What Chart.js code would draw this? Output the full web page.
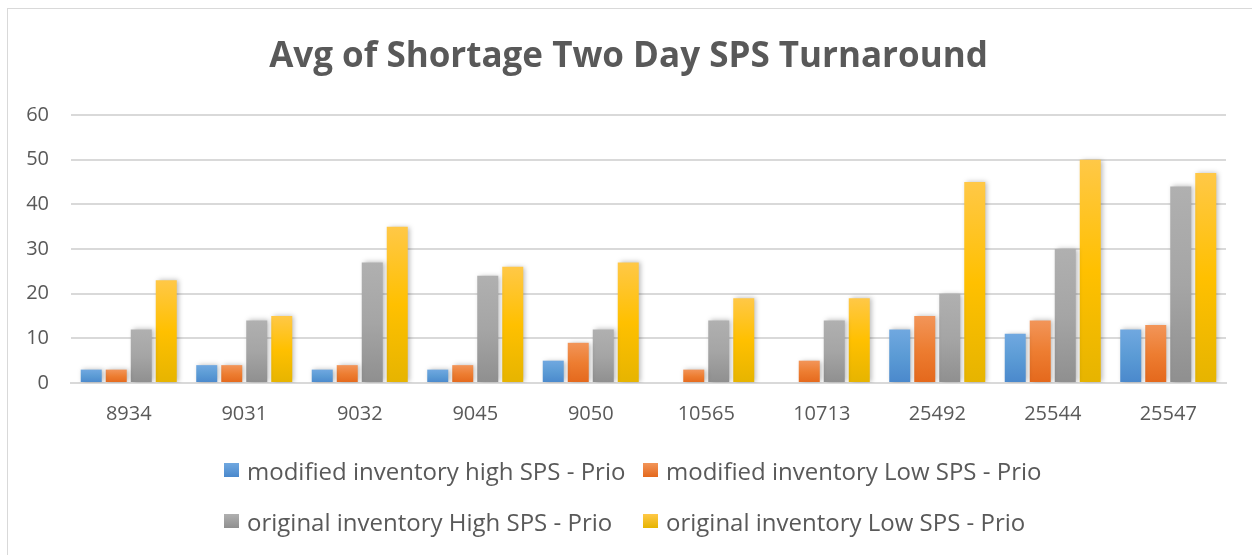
<!DOCTYPE html>
<html>
<head>
<meta charset="utf-8">
<script src="https://cdn.jsdelivr.net/npm/chart.js@4.4.1/dist/chart.umd.min.js"></script>
<style>
    html, body { margin: 0; padding: 0; background: #ffffff; }
    #frame {
        position: relative;
        width: 1252px;
        height: 555px;
        overflow: hidden;
    }
    #border {
        position: absolute;
        left: 7px; top: 8px; width: 1260px; height: 560px;
        border: 1px solid #d9d9d9;
        box-sizing: border-box;
    }
    #chartBox {
        position: absolute;
        left: 0; top: 0;
        width: 1252px; height: 455px;
    }
    #legend {
        position: absolute;
        left: 224px; top: 455px;
        display: grid;
        grid-template-columns: 419px auto;
        grid-auto-rows: 30px;
        row-gap: 21px;
        font-family: 'Open Sans', sans-serif;
        font-size: 24px;
        color: #595959;
    }
    .legend-item { display: flex; align-items: center; white-space: nowrap; }
    .legend-box { flex: 0 0 15px; width: 15px; height: 14px; margin-right: 8px; }
</style>
</head>
<body>
<div id="frame">
    <div id="border"></div>
    <div id="chartBox"><canvas id="chart"></canvas></div>
    <div id="legend"></div>
</div>
<script>
// Chart data
const categories = ['8934', '9031', '9032', '9045', '9050', '10565', '10713', '25492', '25544', '25547'];
const seriesNames = [
    'modified inventory high SPS - Prio',
    'modified inventory Low SPS - Prio',
    'original inventory High SPS - Prio',
    'original inventory Low SPS - Prio'
];
const modifiedHigh = [3, 4, 3, 3, 5, null, null, 12, 11, 12];
const modifiedLow = [3, 4, 4, 4, 9, 3, 5, 15, 14, 13];
const originalHigh = [12, 14, 27, 24, 12, 14, 14, 20, 30, 44];
const originalLow = [23, 15, 35, 26, 27, 19, 19, 45, 50, 47];
const yTicks = [0, 10, 20, 30, 40, 50, 60];

// gradient stops per series: top, middle, bottom
const seriesColors = [
    ['#70a8e0', '#5b9bd5', '#4a88cc'],
    ['#f29559', '#ed7d31', '#e4681c'],
    ['#b0b0b0', '#a5a5a5', '#8f8f8f'],
    ['#ffc847', '#ffc000', '#e6b400']
];

const FONT = "'Open Sans', sans-serif";

/**
 * Vertical gradient for one bar, from its top down to the zero line
 */
const barGradient = (context, colors) => {
    const chart = context.chart;
    const area = chart.chartArea;
    if (!area || context.parsed == null || context.parsed.y == null) {
        return colors[1];
    }
    const yScale = chart.scales.y;
    const top = yScale.getPixelForValue(context.parsed.y);
    const base = yScale.getPixelForValue(0);
    if (!isFinite(top) || base - top < 1) {
        return colors[1];
    }
    const g = chart.ctx.createLinearGradient(0, top, 0, base);
    g.addColorStop(0, colors[0]);
    g.addColorStop(0.5, colors[1]);
    g.addColorStop(1, colors[2]);
    return g;
};

// soft drop shadow behind the bars, like the office chart
const barShadow = {
    id: 'barShadow',
    beforeDatasetsDraw: (chart) => {
        const c = chart.ctx;
        c.save();
        c.shadowColor = 'rgba(0, 0, 0, 0.28)';
        c.shadowBlur = 5;
        c.shadowOffsetX = 2;
        c.shadowOffsetY = 0;
    },
    afterDatasetsDraw: (chart) => {
        chart.ctx.restore();
    }
};

const seriesValues = [modifiedHigh, modifiedLow, originalHigh, originalLow];

const datasets = seriesValues.map((values, i) => ({
    label: seriesNames[i],
    data: values,
    backgroundColor: (ctx) => barGradient(ctx, seriesColors[i]),
    borderWidth: 0,
    categoryPercentage: 0.866,
    barPercentage: 0.84
}));

const ctx = document.getElementById('chart').getContext('2d');

new Chart(ctx, {
    type: 'bar',
    data: { labels: categories, datasets: datasets },
    plugins: [barShadow],
    options: {
        responsive: true,
        maintainAspectRatio: false,
        animation: false,
        layout: { padding: { left: 5, right: 0, top: 0, bottom: 8 } },
        plugins: {
            legend: { display: false },
            tooltip: { enabled: false },
            title: {
                display: true,
                text: 'Avg of Shortage Two Day SPS Turnaround',
                color: '#595959',
                font: { family: FONT, size: 35, weight: 'bold' },
                padding: { top: 36, bottom: 37 }
            }
        },
        scales: {
            x: {
                afterFit: (scale) => { scale.height = 64; },
                grid: { display: false, drawTicks: false },
                border: { display: true, color: '#d9d9d9', width: 2 },
                ticks: {
                    color: '#595959',
                    font: { family: FONT, size: 20 },
                    padding: 19
                }
            },
            y: {
                min: yTicks[0],
                max: yTicks[yTicks.length - 1],
                afterBuildTicks: (scale) => {
                    scale.ticks = yTicks.map(v => ({ value: v }));
                },
                afterFit: (scale) => { scale.width = 66; },
                grid: { color: '#d9d9d9', lineWidth: 2, drawTicks: false },
                border: { display: false },
                ticks: {
                    color: '#595959',
                    font: { family: FONT, size: 20 },
                    padding: 22
                }
            },
            // empty right-hand strip so the title stays centred on the page
            yRight: {
                position: 'right',
                afterFit: (scale) => { scale.width = 26; },
                grid: { display: false, drawTicks: false },
                border: { display: false },
                ticks: { display: false }
            }
        }
    }
});

// HTML legend built from the same series
const legendEl = document.getElementById('legend');
legendEl.innerHTML = seriesNames.map((name, i) => `
    <div class="legend-item">
        <span class="legend-box" style="background: linear-gradient(${seriesColors[i][0]}, ${seriesColors[i][2]});"></span>
        <span>${name}</span>
    </div>
`).join('');
</script>
</body>
</html>
